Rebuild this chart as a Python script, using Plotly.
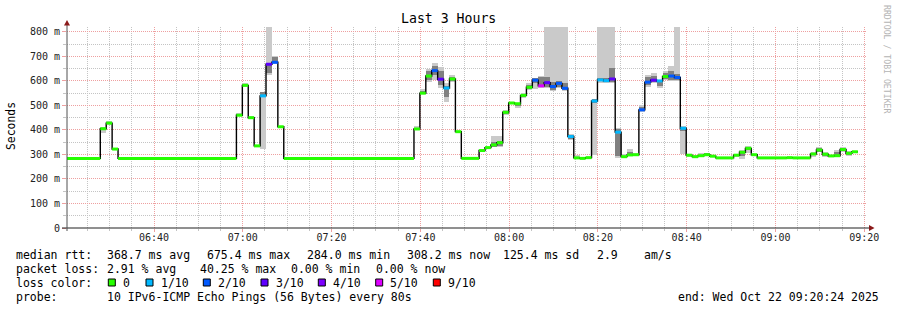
import plotly.graph_objects as go
import pandas as pd

# ---------------- data ----------------
first_start = "2025-10-22 06:19:54"     # start of first 80 s interval
step_seconds = 80
range_start = "2025-10-22 06:20:24"
range_end = "2025-10-22 09:20:24"

# run-length segments: number of 80 s intervals each segment lasts
seg_steps = [6, 1, 1, 1, 20, 1, 1, 1, 1, 1, 1, 1, 1, 22, 1, 1, 1, 1, 1, 1, 1, 1, 3,
             1, 1, 1, 1, 1, 1, 1, 1, 1, 1, 1, 1, 1, 1, 1, 1, 1, 1, 1, 1, 1, 1, 1,
             1, 1, 1, 1, 1, 1, 1, 1, 1, 1, 1, 1, 1, 1, 1, 1, 1, 3, 1, 1, 1, 1, 5,
             1, 3, 1, 1, 1, 1, 1, 1, 1, 1]
median_ms = [284, 405, 428, 322, 284, 460, 582, 450, 335, 539, 668, 676, 413, 284,
             404, 550, 620, 642, 607, 571, 608, 393, 284,
             316, 328, 339, 348, 472, 510, 507, 541, 574, 603, 580, 593, 577, 590,
             570, 373, 286, 284, 287, 518, 604, 601, 608,
             391, 291, 298, 299, 482, 595, 603, 600, 618, 620, 614, 407, 297, 291,
             295, 299, 293, 286, 297, 309, 325, 299, 286,
             287, 286, 302, 318, 301, 294, 295, 320, 305, 311]
loss_tenths = [0, 0, 0, 0, 0, 0, 0, 0, 0, 1, 3, 2, 0, 0,
               0, 0, 0, 2, 3, 1, 0, 0, 0,
               0, 0, 0, 0, 0, 0, 0, 0, 0, 2, 5, 3, 2, 2,
               2, 1, 0, 0, 0, 1, 1, 1, 3,
               1, 0, 0, 0, 2, 2, 3, 1, 0, 2, 2, 1, 0, 0,
               0, 0, 0, 0, 0, 0, 0, 0, 0,
               0, 0, 0, 0, 0, 0, 0, 0, 0, 0]
smoke_lo = [None, 388, 420, 319, None, 455, 576, 446, 333, 322, 624, 670, 410, None,
            400, 545, 597, 605, 570, 515, 597, 390, None,
            314, 325, 329, 329, 462, 505, 491, 530, 565, 567, 570, 570, 560, 570,
            560, 361, 284, None, 284, 298, 590, 590, 590,
            284, 288, 295, 295, 472, 576, 590, 570, 604, 600, 600, 300, 290, 286,
            292, 294, None, None, 290, 282, 305, 296, None,
            None, None, 290, 311, 290, 290, 288, 310, 295, 306]
smoke_hi = [None, 412, 436, 326, None, 468, 592, 456, 339, 555, 820, 700, 418, None,
            416, 566, 647, 672, 655, 590, 624, 396, None,
            320, 332, 375, 375, 482, 515, 512, 550, 590, 612, 620, 820, 820, 820,
            820, 383, 296, None, 290, 525, 820, 820, 820,
            410, 300, 321, 305, 502, 624, 631, 604, 641, 661, 820, 415, 300, 296,
            304, 306, None, None, 300, 318, 335, 302, None,
            None, None, 310, 331, 312, 298, 318, 330, 315, 316]
core_lo = [None, 398, 424, None, None, 458, 580, None, None, 539, 631, 674, None, None,
           402, 548, 605, 625, 585, 535, 600, None, None,
           None, None, 332, 335, 466, None, 498, 535, 568, 590, 578, 575, 565, 575,
           565, 365, None, None, None, 512, 598, 596, 595,
           292, None, 300, None, 476, 582, 594, 580, 608, 605, 605, 395, None, None,
           None, 296, None, None, None, 295, 318, None, None,
           None, None, None, 312, 295, None, 290, 314, 298, None]
core_hi = [None, 410, 434, None, None, 465, 588, None, None, 555, 675, 696, None, None,
           410, 558, 640, 660, 640, 580, 618, None, None,
           None, None, 350, 356, 478, None, 510, 546, 582, 610, 615, 615, 595, 600,
           590, 378, None, None, None, 525, 612, 612, 651,
           405, None, 312, None, 495, 615, 620, 603, 632, 640, 630, 412, None, None,
           None, 304, None, None, None, 315, 330, None, None,
           None, None, None, 328, 308, None, 312, 326, 310, None]

y_tick_values = [0, 100, 200, 300, 400, 500, 600, 700, 800]
y_tick_labels = ["0", "100 m", "200 m", "300 m", "400 m", "500 m", "600 m", "700 m", "800 m"]

loss_levels = [0, 1, 2, 3, 4, 5, 9]
loss_labels = ["0", "1/10", "2/10", "3/10", "4/10", "5/10", "9/10"]
loss_colors = ["#26ff00", "#00b8ff", "#0059ff", "#5e00ff", "#7e00ff", "#dd00ff", "#ff0000"]

stats_rtt = ["368.7 ms avg", "675.4 ms max", "284.0 ms min", "308.2 ms now", "125.4 ms sd", "2.9", "am/s"]
stats_loss = ["2.91 % avg", "40.25 % max", "0.00 % min", "0.00 % now"]
probe_text = "10 IPv6-ICMP Echo Pings (56 Bytes) every 80s"
end_text = "end: Wed Oct 22 09:20:24 2025"

# ---------------- layout geometry (pixels) ----------------
W, H = 897, 310
L, R, T, B = 67, 866, 27, 228
FONT = "DejaVu Sans Mono"


def px(x):
    return (x - L) / (R - L)


def py(y):
    return (B - y) / (B - T)


# ---------------- build segments ----------------
t0 = pd.Timestamp(first_start)
starts, ends = [], []
k = 0
for n in seg_steps:
    starts.append(t0 + pd.Timedelta(seconds=step_seconds * k))
    k += n
    ends.append(t0 + pd.Timedelta(seconds=step_seconds * k))

fig = go.Figure()


def bar_trace(lo, hi, color):
    xs, bases, hs, ws = [], [], [], []
    for s, e, a, b in zip(starts, ends, lo, hi):
        if a is None or b is None:
            continue
        xs.append(s + (e - s) / 2)
        bases.append(a)
        hs.append(b - a)
        ws.append((e - s).total_seconds() * 1000)
    return go.Bar(x=xs, y=hs, base=bases, width=ws, marker=dict(color=color, line=dict(width=0)),
                  hoverinfo="skip", showlegend=False)


fig.add_trace(bar_trace(smoke_lo, smoke_hi, "#cacaca"))
fig.add_trace(bar_trace(core_lo, core_hi, "#808080"))

# black median step line
fig.add_trace(go.Scatter(x=starts + [ends[-1]], y=median_ms + [median_ms[-1]], mode="lines",
                         line=dict(color="#000000", width=1.4, shape="hv"),
                         hoverinfo="skip", showlegend=False))

# coloured median bars by loss
for lvl, col in zip(loss_levels, loss_colors):
    xs, ys = [], []
    for s, e, m, l in zip(starts, ends, median_ms, loss_tenths):
        if l == lvl:
            xs += [s, e, None]
            ys += [m, m, None]
    if xs:
        fig.add_trace(go.Scatter(x=xs, y=ys, mode="lines", line=dict(color=col, width=3),
                                 hoverinfo="skip", showlegend=False))

MAJ = "#eea0a0"
MIN = "#c4c4c4"
DASH = "1px,1px"

fig.update_layout(
    width=W, height=H,
    margin=dict(l=L, r=W - R, t=T, b=H - B, pad=0),
    paper_bgcolor="white", plot_bgcolor="white",
    barmode="overlay", bargap=0, showlegend=False,
    font=dict(family=FONT, size=10, color="#000"),
    xaxis=dict(type="date", range=[range_start, range_end],
               tickmode="linear", tick0="2025-10-22 06:00:00", dtick=20 * 60 * 1000,
               tickformat="%H:%M", showgrid=True, gridcolor=MAJ, griddash=DASH, gridwidth=1,
               ticks="outside", ticklen=3, tickcolor=MAJ, showline=False, zeroline=False,
               ticklabelstandoff=-3,
               tickfont=dict(family=FONT, size=10, color="#222"),
               minor=dict(tickmode="linear", tick0="2025-10-22 06:00:00", dtick=5 * 60 * 1000,
                          showgrid=True, gridcolor=MIN, griddash=DASH, ticks="outside",
                          ticklen=2, tickcolor=MIN),
               fixedrange=True),
    yaxis=dict(range=[0, 820], tickmode="array", tickvals=y_tick_values, ticktext=y_tick_labels,
               showgrid=True, gridcolor=MAJ, griddash=DASH, gridwidth=1,
               ticks="outside", ticklen=4, tickcolor=MAJ, showline=False, zeroline=False,
               tickfont=dict(family=FONT, size=10, color="#222"),
               minor=dict(tickmode="linear", tick0=0, dtick=50, showgrid=True, gridcolor=MIN,
                          griddash=DASH, ticks="outside", ticklen=3, tickcolor=MIN),
               fixedrange=True),
)

shapes = []
# axis lines
shapes.append(dict(type="line", xref="paper", yref="paper", x0=px(62), x1=px(870), y0=0, y1=0,
                   line=dict(color="#202020", width=1)))
shapes.append(dict(type="line", xref="paper", yref="paper", x0=0, x1=0, y0=py(231), y1=py(24),
                   line=dict(color="#505050", width=1)))
# arrows
shapes.append(dict(type="path", xref="paper", yref="paper",
                   path=f"M {px(64)} {py(25.5)} L {px(70)} {py(25.5)} L {px(67)} {py(20)} Z",
                   fillcolor="#8b1a1a", line=dict(width=0)))
shapes.append(dict(type="path", xref="paper", yref="paper",
                   path=f"M {px(869)} {py(225)} L {px(869)} {py(231)} L {px(874.5)} {py(228)} Z",
                   fillcolor="#8b1a1a", line=dict(width=0)))

annotations = []


def text(x, y, s, size=11.5, color="#000", anchor="left", angle=0):
    annotations.append(dict(x=px(x), y=py(y), xref="paper", yref="paper", text=s,
                            showarrow=False, xanchor=anchor, yanchor="middle", textangle=angle,
                            font=dict(family=FONT, size=size, color=color), borderpad=0))


# title and axis title
text(448.5, 19, "Last 3 Hours", size=13.2, anchor="center")
text(11, 126, "Seconds", size=11.4, anchor="center", angle=-90)
text(887, 59, "RRDTOOL / TOBI OETIKER", size=8.2, color="#b4b4b4", anchor="center", angle=90)

# legend rows
row_y = [254.5, 268.5, 282.5, 296.5]
text(15, row_y[0], "median rtt:")
for s, x in zip(stats_rtt, [106, 205.7, 306, 405.7, 502, 596, 642.5]):
    text(x, row_y[0], s)
text(15, row_y[1], "packet loss:")
for s, x in zip(stats_loss, [106.3, 199, 289.5, 375]):
    text(x, row_y[1], s)
text(15, row_y[2], "loss color:")
box_x = [108.3, 146, 203.3, 261, 318.3, 375.7, 433.3]
for bx, col, lab in zip(box_x, loss_colors, loss_labels):
    shapes.append(dict(type="rect", xref="paper", yref="paper",
                       x0=px(bx), x1=px(bx + 7), y0=py(row_y[2] + 3.5), y1=py(row_y[2] - 3.5),
                       fillcolor=col, line=dict(color="#000", width=1)))
    text(bx + 13.5, row_y[2], lab)
text(15, row_y[3], "probe:")
text(106, row_y[3], probe_text)
text(677.3, row_y[3], end_text)

fig.update_layout(shapes=shapes, annotations=annotations)

fig.write_html("out.html")
